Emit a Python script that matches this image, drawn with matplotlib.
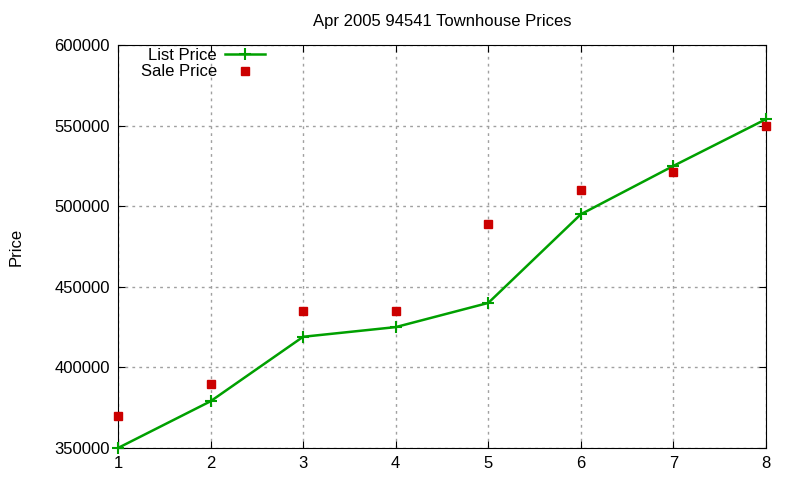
import matplotlib
matplotlib.use('Agg')
import matplotlib.pyplot as plt

plt.rcParams['font.family'] = ['Liberation Sans', 'DejaVu Sans']

# データ
x = [1, 2, 3, 4, 5, 6, 7, 8]
list_price = [350000, 379000, 419000, 425000, 440000, 495000, 525000, 554000]
sale_price = [370000, 390000, 435000, 435000, 489000, 510000, 521000, 550000]

fig = plt.figure(figsize=(8, 4.8), dpi=100)
ax = fig.add_axes([118 / 800, 32 / 480, 648 / 800, 403 / 480])

ax.plot(x, list_price, color='#00a000', lw=1.8, marker='+', ms=8, mew=1.5,
        label='List Price', clip_on=False, zorder=3)
ax.plot(x, sale_price, ls='none', marker='s', ms=6, color='#cc0000',
        label='Sale Price', clip_on=False, zorder=3)

ax.set_xlim(1, 8)
ax.set_ylim(350000, 600000)
ax.set_xticks(x)
ax.set_yticks(range(350000, 600001, 50000))
ax.tick_params(direction='in', top=True, right=True, labelsize=12, length=5, pad=6)
ax.grid(True, color='#a0a0a0', ls=(0, (2, 3)), lw=1)

ax.set_title('Apr 2005 94541 Townhouse Prices', fontsize=12, pad=14)
ax.set_ylabel('Price', fontsize=12, labelpad=22)

ax.legend(loc='upper left', bbox_to_anchor=(0.017, 1.022), frameon=False,
          markerfirst=False, fontsize=12, handlelength=2.4, labelspacing=0.1,
          handletextpad=0.5, borderaxespad=0.3)

fig.savefig('out.png', dpi=100)
